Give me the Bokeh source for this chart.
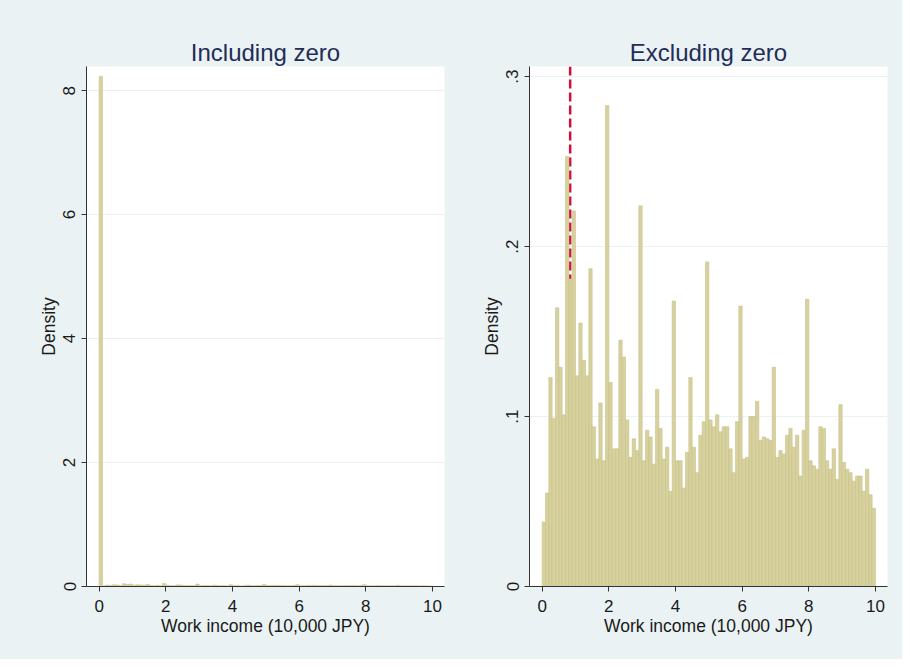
import numpy as np
from bokeh.plotting import figure
from bokeh.layouts import row
from bokeh.models import Span, FixedTicker, CustomJSTickFormatter, Range1d
from bokeh.embed import file_html
from bokeh.resources import INLINE

# ---- data -------------------------------------------------------------
# histogram bins of width 0.1 from 0 to 10 (10,000 JPY)
bin_edges = [round(i * 0.1, 1) for i in range(101)]

# density, sample including zero income
incl_density = [
    8.23, 0.010, 0.022, 0.018, 0.029, 0.023, 0.018, 0.045, 0.032, 0.039,
    0.022, 0.028, 0.024, 0.022, 0.033, 0.017, 0.013, 0.019, 0.013, 0.050,
    0.021, 0.014, 0.014, 0.026, 0.024, 0.017, 0.014, 0.015, 0.014, 0.040,
    0.013, 0.016, 0.016, 0.013, 0.021, 0.017, 0.013, 0.015, 0.010, 0.030,
    0.013, 0.013, 0.010, 0.014, 0.022, 0.015, 0.012, 0.016, 0.017, 0.034,
    0.017, 0.017, 0.018, 0.016, 0.017, 0.017, 0.014, 0.012, 0.017, 0.029,
    0.013, 0.014, 0.018, 0.018, 0.019, 0.015, 0.016, 0.015, 0.015, 0.023,
    0.014, 0.014, 0.014, 0.016, 0.017, 0.015, 0.016, 0.012, 0.016, 0.030,
    0.013, 0.013, 0.012, 0.017, 0.017, 0.013, 0.012, 0.014, 0.011, 0.019,
    0.013, 0.012, 0.012, 0.011, 0.012, 0.012, 0.010, 0.012, 0.010, 0.008,
]

# density, sample excluding zero income
excl_density = [
    0.038, 0.055, 0.123, 0.099, 0.164, 0.129, 0.101, 0.253, 0.181, 0.221,
    0.124, 0.155, 0.133, 0.124, 0.187, 0.094, 0.075, 0.108, 0.074, 0.283,
    0.120, 0.081, 0.081, 0.145, 0.135, 0.098, 0.076, 0.087, 0.080, 0.224,
    0.074, 0.092, 0.088, 0.072, 0.116, 0.093, 0.075, 0.082, 0.056, 0.168,
    0.074, 0.074, 0.058, 0.079, 0.123, 0.082, 0.067, 0.089, 0.097, 0.191,
    0.098, 0.094, 0.101, 0.091, 0.094, 0.094, 0.081, 0.067, 0.097, 0.165,
    0.075, 0.076, 0.100, 0.100, 0.109, 0.086, 0.088, 0.087, 0.086, 0.129,
    0.076, 0.080, 0.078, 0.089, 0.093, 0.082, 0.089, 0.065, 0.092, 0.169,
    0.074, 0.071, 0.069, 0.094, 0.093, 0.074, 0.069, 0.081, 0.063, 0.107,
    0.073, 0.069, 0.067, 0.062, 0.065, 0.065, 0.056, 0.069, 0.054, 0.046,
]

median_income = 0.84
x_ticks = [0, 2, 4, 6, 8, 10]
incl_y_ticks = [0, 2, 4, 6, 8]
excl_y_ticks = [0, 0.1, 0.2, 0.3]
titles = ["Including zero", "Excluding zero"]
x_label = "Work income (10,000 JPY)"
y_label = "Density"

# ---- style ------------------------------------------------------------
BG = "#EAF2F3"
BAR_FILL = "#D6D19D"
BAR_LINE = "#C9C38C"
TITLE_COLOR = "#1F2D58"
TEXT = "#1A1A1A"
FONT = "Liberation Sans"


def make_panel(title, density, y_ticks, y_end, formatter, left_border, right_border):
    p = figure(
        frame_width=358, frame_height=520,
        min_border_left=left_border, min_border_right=right_border,
        min_border_top=66, min_border_bottom=73,
        x_range=Range1d(-0.38, 10.36), y_range=Range1d(0, y_end),
        output_backend="svg", toolbar_location=None,
        background_fill_color="white", border_fill_color=BG,
        outline_line_color=None,
    )
    p.title.text = title
    p.title.align = "center"
    p.title.text_font = FONT
    p.title.text_font_size = "24px"
    p.title.text_font_style = "normal"
    p.title.text_color = TITLE_COLOR
    p.title.standoff = 2

    p.xgrid.grid_line_color = None
    p.ygrid.grid_line_color = BG
    p.ygrid.grid_line_width = 1.2

    p.xaxis.ticker = FixedTicker(ticks=x_ticks)
    p.yaxis.ticker = FixedTicker(ticks=y_ticks)
    if formatter is not None:
        p.yaxis.formatter = formatter
    for ax in (p.xaxis, p.yaxis):
        ax.axis_line_color = "#333333"
        ax.major_tick_line_color = "#333333"
        ax.major_tick_out = 5
        ax.major_tick_in = 0
        ax.minor_tick_line_color = None
        ax.major_label_text_font = FONT
        ax.major_label_text_font_size = "17px"
        ax.major_label_text_color = TEXT
        ax.axis_label_text_font = FONT
        ax.axis_label_text_font_size = "17.5px"
        ax.axis_label_text_font_style = "normal"
        ax.axis_label_text_color = TEXT
        ax.major_label_standoff = 6
    p.xaxis.major_label_standoff = 8
    p.xaxis.axis_label = x_label
    p.xaxis.axis_label_standoff = 1
    p.yaxis.axis_label = y_label
    p.yaxis.axis_label_standoff = 2
    p.yaxis.major_label_orientation = "vertical"

    p.quad(left=bin_edges[:-1], right=bin_edges[1:], bottom=0, top=density,
           fill_color=BAR_FILL, line_color=BAR_LINE, line_width=0.6)
    return p


excl_fmt = CustomJSTickFormatter(
    code="return tick == 0 ? '0' : tick.toFixed(1).replace(/^0/, '');")

p1 = make_panel(titles[0], incl_density, incl_y_ticks, 8.39, None, 86, 10)
p2 = make_panel(titles[1], excl_density, excl_y_ticks, 0.306, excl_fmt, 75, 15)

p2.add_layout(Span(location=median_income, dimension="height",
                   line_color="#D0103A", line_width=2.5, line_dash="9 4",
                   level="underlay"))

layout = row(p1, p2, spacing=0, styles={"background-color": BG})
with open("out.html", "w") as f:
    f.write(file_html(layout, INLINE))
